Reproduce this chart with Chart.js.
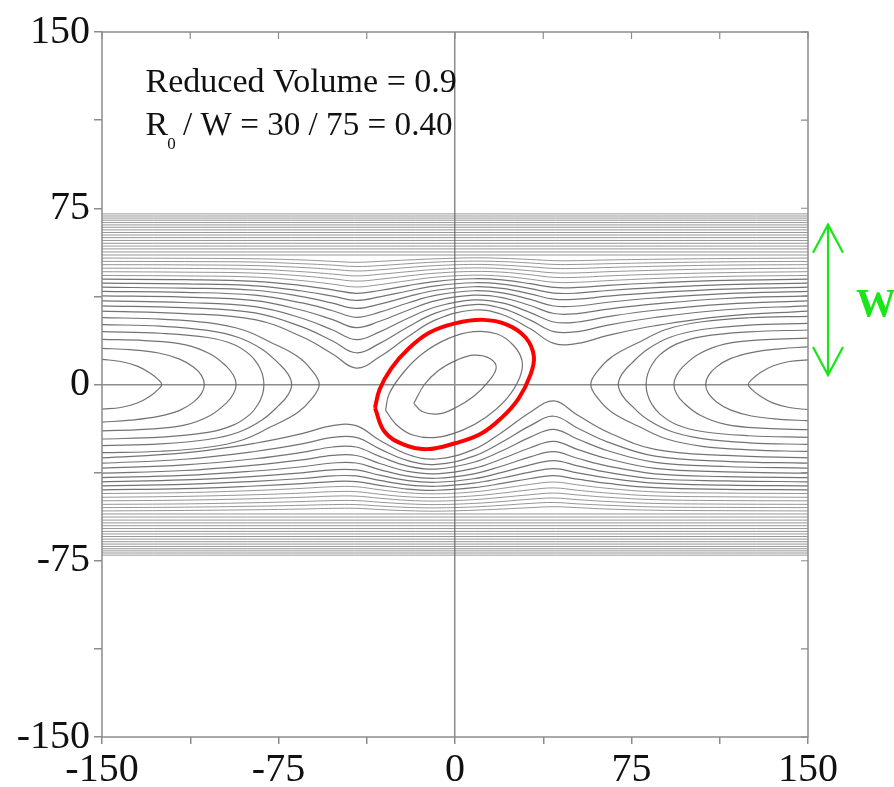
<!DOCTYPE html>
<html>
<head>
<meta charset="utf-8">
<script src="https://cdn.jsdelivr.net/npm/chart.js@4.4.0/dist/chart.umd.min.js"></script>
<style>
  body { margin: 0; background: #fff; }
  #wrap { width: 894px; height: 787px; position: relative; }
</style>
</head>
<body>
<div id="wrap"><canvas id="flow-chart"></canvas></div>
<script>
// Axis ticks
const axisTicks = [-150, -75, 0, 75, 150];

// Knots (x) shared by the wavy streamlines that pass through the channel
const waveX = [-150, -115, -85, -65, -52, -42, -32, -20, -8, 8, 20, 32, 42, 52, 65, 85, 115, 150];

// Upper wavy streamlines, y at each knot
const upperWaves = [
    [31.2, 30.2, 27.6, 20.3, 13.0, 7.0, 11.8, 20.3, 27.6, 31.7, 29.8, 23.7, 17.5, 17.5, 20.9, 25.0, 29.1, 31.2],
    [33.5, 32.7, 30.5, 24.5, 18.5, 13.5, 17.5, 24.5, 30.5, 34, 32.4, 27.4, 22.5, 22.5, 25.3, 28.5, 31.8, 33.5],
    [35.6, 34.9, 33.1, 28.2, 23.2, 19.1, 22.4, 28.2, 33.1, 36, 34.7, 30.6, 26.6, 26.6, 28.9, 31.6, 34.2, 35.6],
    [37.7, 37.2, 35.7, 31.6, 27.6, 24.2, 26.9, 31.6, 35.7, 38, 37, 33.6, 30.2, 30.2, 32.1, 34.3, 36.6, 37.7],
    [39.6, 39.2, 38, 34.7, 31.4, 28.6, 30.8, 34.7, 38, 39.9, 39, 36.2, 33.4, 33.4, 35, 36.8, 38.7, 39.6],
    [41.4, 41, 40.1, 37.4, 34.6, 32.4, 34.2, 37.4, 40.1, 41.6, 40.9, 38.6, 36.3, 36.3, 37.6, 39.1, 40.6, 41.4],
    [43.1, 42.8, 42, 39.8, 37.6, 35.8, 37.3, 39.8, 42, 43.3, 42.7, 40.8, 38.9, 38.9, 40, 41.2, 42.5, 43.1],
    [44.8, 44.6, 43.9, 42.1, 40.3, 38.8, 40, 42.1, 43.9, 45, 44.5, 42.9, 41.3, 41.3, 42.2, 43.2, 44.3, 44.8],
    [46.4, 46.2, 45.7, 44.2, 42.7, 41.5, 42.5, 44.2, 45.7, 46.5, 46.1, 44.8, 43.5, 43.5, 44.2, 45.1, 46, 46.4],
    [48, 47.8, 47.4, 46.2, 45, 44, 44.8, 46.2, 47.4, 48.1, 47.8, 46.7, 45.6, 45.6, 46.2, 46.9, 47.6, 48],
    [49.5, 49.4, 49, 48, 47, 46.2, 46.9, 48, 49, 49.6, 49.3, 48.4, 47.5, 47.5, 48, 48.6, 49.2, 49.5],
    [51, 50.9, 50.6, 49.8, 49, 48.3, 48.8, 49.8, 50.6, 51.1, 50.8, 50.1, 49.4, 49.4, 49.8, 50.3, 50.8, 51],
    [52.4, 52.3, 52.1, 51.4, 50.8, 50.2, 50.6, 51.4, 52.1, 52.5, 52.3, 51.7, 51.1, 51.1, 51.4, 51.8, 52.2, 52.4],
    [53.8, 53.7, 53.5, 53, 52.4, 52, 52.4, 53, 53.5, 53.9, 53.7, 53.2, 52.7, 52.7, 53, 53.3, 53.6, 53.8]
];

// Lower wavy streamlines, y at each knot
const lowerWaves = [
    [-31.2, -29.1, -25.0, -20.9, -17.5, -17.5, -23.7, -29.8, -31.7, -27.6, -20.3, -11.8, -7.0, -13.0, -20.3, -27.6, -30.2, -31.2],
    [-33.5, -31.8, -28.5, -25.3, -22.5, -22.5, -27.4, -32.4, -34, -30.5, -24.5, -17.5, -13.5, -18.5, -24.5, -30.5, -32.7, -33.5],
    [-35.6, -34.2, -31.6, -28.9, -26.6, -26.6, -30.6, -34.7, -36, -33.1, -28.2, -22.4, -19.1, -23.2, -28.2, -33.1, -34.9, -35.6],
    [-37.7, -36.6, -34.3, -32.1, -30.2, -30.2, -33.6, -37, -38, -35.7, -31.6, -26.9, -24.2, -27.6, -31.6, -35.7, -37.2, -37.7],
    [-39.6, -38.7, -36.8, -35, -33.4, -33.4, -36.2, -39, -39.9, -38, -34.7, -30.8, -28.6, -31.4, -34.7, -38, -39.2, -39.6],
    [-41.4, -40.6, -39.1, -37.6, -36.3, -36.3, -38.6, -40.9, -41.6, -40.1, -37.4, -34.2, -32.4, -34.6, -37.4, -40.1, -41, -41.4],
    [-43.1, -42.5, -41.2, -40, -38.9, -38.9, -40.8, -42.7, -43.3, -42, -39.8, -37.3, -35.8, -37.6, -39.8, -42, -42.8, -43.1],
    [-44.8, -44.3, -43.2, -42.2, -41.3, -41.3, -42.9, -44.5, -45, -43.9, -42.1, -40, -38.8, -40.3, -42.1, -43.9, -44.6, -44.8],
    [-46.4, -46, -45.1, -44.2, -43.5, -43.5, -44.8, -46.1, -46.5, -45.7, -44.2, -42.5, -41.5, -42.7, -44.2, -45.7, -46.2, -46.4],
    [-48, -47.6, -46.9, -46.2, -45.6, -45.6, -46.7, -47.8, -48.1, -47.4, -46.2, -44.8, -44, -45, -46.2, -47.4, -47.8, -48],
    [-49.5, -49.2, -48.6, -48, -47.5, -47.5, -48.4, -49.3, -49.6, -49, -48, -46.9, -46.2, -47, -48, -49, -49.4, -49.5],
    [-51, -50.8, -50.3, -49.8, -49.4, -49.4, -50.1, -50.8, -51.1, -50.6, -49.8, -48.8, -48.3, -49, -49.8, -50.6, -50.9, -51],
    [-52.4, -52.2, -51.8, -51.4, -51.1, -51.1, -51.7, -52.3, -52.5, -52.1, -51.4, -50.6, -50.2, -50.8, -51.4, -52.1, -52.3, -52.4],
    [-53.8, -53.6, -53.3, -53, -52.7, -52.7, -53.2, -53.7, -53.9, -53.5, -53, -52.4, -52, -52.4, -53, -53.5, -53.7, -53.8]
];

// Nearly straight streamlines in the dense band near the walls
const bandUpper = [55.1, 56.4, 57.7, 58.9, 60.1, 61.3, 62.5, 63.6, 64.7, 65.8, 66.9, 67.9, 68.9, 69.9, 70.8, 71.7, 72.6];
const bandLower = [-55.1, -56.4, -57.7, -58.9, -60.1, -61.3, -62.5, -63.6, -64.7, -65.8, -66.9, -67.9, -68.9, -69.9, -70.8, -71.7, -72.6];

// Reversing (C-shaped) streamlines on the left
const leftLoops = [
    [[-150, 10.7], [-142, 9.8], [-135, 7.8], [-129.5, 4.8], [-126.2, 2.2], [-124.6, 0], [-126.2, -2.2], [-129.5, -4.9], [-135, -7.9], [-142, -9.8], [-150, -10.5]],
    [[-150, 15.4], [-138, 14.8], [-126, 13.4], [-117, 10.8], [-111, 7.3], [-107.7, 3.8], [-106.5, 0], [-107.7, -3.8], [-111, -7.4], [-117, -11], [-126, -13.6], [-138, -15.2], [-150, -16]],
    [[-150, 19.2], [-132, 18.7], [-115, 17], [-104, 13], [-97, 7.6], [-94.1, 3.8], [-93, 0], [-94.1, -3.8], [-97, -7.7], [-104, -13.2], [-115, -17.3], [-132, -19.1], [-150, -19.7]],
    [[-150, 22.5], [-125, 21.8], [-105, 20], [-94, 17], [-87, 12.5], [-83.6, 8.3], [-81.8, 4.2], [-81.2, 0], [-81.8, -4.2], [-83.6, -8.3], [-87, -12.6], [-94, -17.2], [-105, -20.4], [-125, -22.4], [-150, -23.2]],
    [[-150, 25.5], [-125, 24.8], [-105, 23], [-92, 20], [-82, 15], [-75, 9], [-71, 4.5], [-69.4, 0], [-71, -4.5], [-75, -9], [-82, -15.1], [-92, -20.3], [-105, -23.4], [-125, -25.3], [-150, -26]],
    [[-150, 28.5], [-125, 27.8], [-105, 26.3], [-90, 23.2], [-78, 17.8], [-67, 12], [-61, 6.2], [-57.7, 0], [-61, -6.2], [-67, -12], [-78, -17.9], [-90, -23.5], [-105, -26.7], [-125, -28.4], [-150, -29]]
];

// Reversing (C-shaped) streamlines on the right
const rightLoops = [
    [[150, 10.5], [142, 9.8], [135, 7.9], [129.5, 4.9], [126.2, 2.2], [124.6, 0], [126.2, -2.2], [129.5, -4.8], [135, -7.8], [142, -9.8], [150, -10.7]],
    [[150, 16], [138, 15.2], [126, 13.6], [117, 11], [111, 7.4], [107.7, 3.8], [106.5, 0], [107.7, -3.8], [111, -7.3], [117, -10.8], [126, -13.4], [138, -14.8], [150, -15.4]],
    [[150, 19.7], [132, 19.1], [115, 17.3], [104, 13.2], [97, 7.7], [94.1, 3.8], [93, 0], [94.1, -3.8], [97, -7.6], [104, -13], [115, -17], [132, -18.7], [150, -19.2]],
    [[150, 23.2], [125, 22.4], [105, 20.4], [94, 17.2], [87, 12.6], [83.6, 8.3], [81.8, 4.2], [81.2, 0], [81.8, -4.2], [83.6, -8.3], [87, -12.5], [94, -17], [105, -20], [125, -21.8], [150, -22.5]],
    [[150, 26], [125, 25.3], [105, 23.4], [92, 20.3], [82, 15.1], [75, 9], [71, 4.5], [69.4, 0], [71, -4.5], [75, -9], [82, -15], [92, -20], [105, -23], [125, -24.8], [150, -25.5]],
    [[150, 29], [125, 28.4], [105, 26.7], [90, 23.5], [78, 17.9], [67, 12], [61, 6.2], [57.7, 0], [61, -6.2], [67, -12], [78, -17.8], [90, -23.2], [105, -26.3], [125, -27.8], [150, -28.5]]
];

// Closed orbits around the vesicle
const innerOrbit = [[-17.5, -8], [-14, -11.5], [-7, -12.5], [0, -10], [8, -5], [14, 1], [17.5, 7], [15, 11], [8, 12.5], [1, 10.5], [-7, 6], [-13, 0], [-17.5, -8]];
const midOrbit = [[-29.5, -11], [-28, -4], [-22, 5], [-14, 13], [-3, 19.5], [8, 22.5], [18, 21.5], [25, 16.5], [28.5, 10], [27.5, 3], [22, -6], [13, -14], [3, -19.5], [-8, -22.5], [-18, -21.5], [-25, -17], [-29.5, -11]];
const vesicleOutline = [[-34, -10], [-32, -2], [-27, 7], [-20, 15], [-11, 22], [0, 26], [12, 27.5], [22, 25.5], [30, 20], [33.5, 12], [32, 4], [27, -6], [20, -14], [11, -21], [0, -25], [-12, -27.5], [-22, -25.5], [-30, -20], [-34, -10]];

const GREY = 'rgba(100, 100, 100, 0.9)';
const BAND_GREY = 'rgba(105, 105, 105, 0.7)';
const FRAME = '#8c8c8c';

function grayLine(points, color, width) {
    return {
        data: points.map(p => ({ x: p[0], y: p[1] })),
        showLine: true,
        borderColor: color || GREY,
        borderWidth: width || 1.2,
        pointRadius: 0,
        tension: 0.4,
        fill: false
    };
}

function buildDatasets() {
    const sets = [];
    bandUpper.concat(bandLower).forEach(y => {
        sets.push(grayLine([[-150, y], [150, y]], BAND_GREY, 1));
    });
    upperWaves.concat(lowerWaves).forEach(ys => {
        const far = Math.abs(ys[0]) > 46;
        sets.push(grayLine(ys.map((y, i) => [waveX[i], y]), far ? BAND_GREY : GREY, far ? 1 : 1.2));
    });
    leftLoops.concat(rightLoops).forEach(loop => sets.push(grayLine(loop)));
    sets.push(grayLine(innerOrbit));
    sets.push(grayLine(midOrbit));
    sets.push({
        data: vesicleOutline.map(p => ({ x: p[0], y: p[1] })),
        showLine: true,
        borderColor: '#ff0000',
        borderWidth: 4,
        pointRadius: 0,
        tension: 0.4,
        fill: false
    });
    return sets;
}

// Frame, inward ticks on top/right, text and the W arrow
const decorPlugin = {
    id: 'decor',
    afterDatasetsDraw(chart) {
        const ctx = chart.ctx;
        const a = chart.chartArea;
        const xs = chart.scales.x;
        const ys = chart.scales.y;
        ctx.save();

        // frame
        ctx.strokeStyle = FRAME;
        ctx.lineWidth = 1.5;
        ctx.strokeRect(a.left, a.top, a.right - a.left, a.bottom - a.top);

        // inward ticks on top and right
        ctx.lineWidth = 1.2;
        ctx.beginPath();
        for (let v = -150; v <= 150; v += 37.5) {
            const px = xs.getPixelForValue(v);
            ctx.moveTo(px, a.top);
            ctx.lineTo(px, a.top + 7);
            const py = ys.getPixelForValue(v);
            ctx.moveTo(a.right, py);
            ctx.lineTo(a.right - 7, py);
        }
        ctx.stroke();

        // annotation text
        ctx.fillStyle = '#111';
        ctx.textBaseline = 'alphabetic';
        ctx.textAlign = 'left';
        const tx = xs.getPixelForValue(-131.5);
        ctx.font = '34px "Liberation Serif", serif';
        ctx.fillText('Reduced Volume = 0.9', tx, ys.getPixelForValue(124.5));
        const by = ys.getPixelForValue(106);
        ctx.fillText('R', tx, by);
        const w = ctx.measureText('R').width;
        ctx.font = '17px "Liberation Serif", serif';
        ctx.fillText('0', tx + w - 1, by + 14);
        const w0 = ctx.measureText('0').width;
        ctx.font = '34px "Liberation Serif", serif';
        const sx = tx + w + w0 - 2;
        ctx.fillText(' / W = 30 / 75 = 0.40', sx, by, xs.getPixelForValue(-1) - sx);

        // green W arrow
        const gx = a.right + 20;
        const yTop = ys.getPixelForValue(68);
        const yBot = ys.getPixelForValue(4);
        ctx.strokeStyle = '#19e619';
        ctx.lineWidth = 2.2;
        ctx.beginPath();
        ctx.moveTo(gx, yTop);
        ctx.lineTo(gx, yBot);
        ctx.moveTo(gx - 15, yTop + 28);
        ctx.lineTo(gx, yTop);
        ctx.lineTo(gx + 15, yTop + 28);
        ctx.moveTo(gx - 15, yBot - 28);
        ctx.lineTo(gx, yBot);
        ctx.lineTo(gx + 15, yBot - 28);
        ctx.stroke();
        ctx.fillStyle = '#19e619';
        ctx.font = 'bold 40px "Liberation Serif", serif';
        ctx.fillText('W', gx + 28, ys.getPixelForValue(29));

        ctx.restore();
    }
};

function tickLabel(v) {
    return axisTicks.includes(v) ? String(v) : '';
}

function zeroLine(c) {
    return c.tick && c.tick.value === 0 ? '#8c8c8c' : 'rgba(0,0,0,0)';
}

function createFlowChart() {
    const ctx = document.getElementById('flow-chart').getContext('2d');
    new Chart(ctx, {
        type: 'scatter',
        data: { datasets: buildDatasets() },
        options: {
            responsive: true,
            maintainAspectRatio: false,
            animation: false,
            layout: { padding: { top: 32, right: 86, left: 0, bottom: 0 } },
            plugins: { legend: { display: false }, tooltip: { enabled: false } },
            scales: {
                x: {
                    type: 'linear',
                    min: -150,
                    max: 150,
                    afterFit: s => { s.height = 50; },
                    ticks: {
                        stepSize: 37.5,
                        autoSkip: false,
                        maxRotation: 0,
                        padding: 2,
                        color: '#111',
                        font: { family: 'Liberation Serif', size: 40 },
                        callback: tickLabel
                    },
                    grid: { color: zeroLine, lineWidth: 1.5, tickColor: FRAME, tickLength: 7, drawTicks: true },
                    border: { display: false }
                },
                y: {
                    type: 'linear',
                    min: -150,
                    max: 150,
                    afterFit: s => { s.width = 102; },
                    ticks: {
                        stepSize: 37.5,
                        autoSkip: false,
                        padding: 4,
                        color: '#111',
                        font: { family: 'Liberation Serif', size: 40 },
                        callback: tickLabel
                    },
                    grid: { color: zeroLine, lineWidth: 1.5, tickColor: FRAME, tickLength: 8, drawTicks: true },
                    border: { display: false }
                }
            }
        },
        plugins: [decorPlugin]
    });
}

document.addEventListener('DOMContentLoaded', createFlowChart);
</script>
</body>
</html>
